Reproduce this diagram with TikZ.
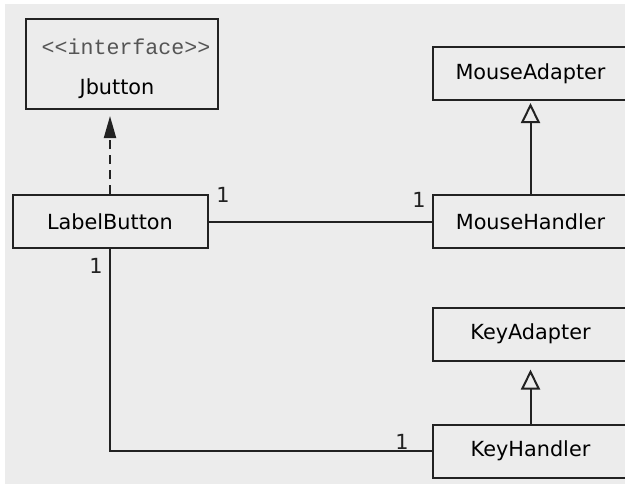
\documentclass[tikz,border=0pt]{standalone}
\usepackage{fontspec}
\setmainfont{DejaVu Sans}
\newfontfamily\umlmono{Liberation Mono}
\usepackage{xcolor}
\usepackage{tikz}
\usetikzlibrary{arrows.meta}
\definecolor{panelgray}{HTML}{ECECEC}
\definecolor{linegray}{HTML}{222222}
\definecolor{stereogray}{HTML}{555555}

\begin{document}
\begin{tikzpicture}[x=0.5pt, y=-0.5pt, font=\fontsize{10.4}{12.5}\selectfont,
    box/.style={shape=rectangle, draw=linegray, line width=1pt, minimum width=97.5pt, minimum height=26.5pt, inner sep=0pt},
    mult/.style={inner sep=0pt, text=linegray},
    realize/.style={draw=linegray, line width=1pt, dash pattern=on 4.5pt off 3pt, -{Triangle[length=11pt, width=6pt]}},
    extend/.style={draw=linegray, line width=1pt, -{Triangle[open, length=10pt, width=9.5pt]}},
    assoc/.style={draw=linegray, line width=1pt}]
    \useasboundingbox (0,0) rectangle (625,484);
    \fill[panelgray] (5,4) rectangle (625,484);

    \node[box, minimum width=96pt, minimum height=45pt] (jbutton) at (122,64) {};
    \node[text=stereogray, font=\umlmono\fontsize{10.8}{13}\selectfont] (stereo) at (126,47) {<{}<interface>{}>};
    \node (jname) at (117,89) {Jbutton};
    \node[box] (label) at (110,221.5) {LabelButton};
    \node[box] (mouseadapter) at (530.5,73.5) {MouseAdapter};
    \node[box] (mousehandler) at (530.5,221.5) {MouseHandler};
    \node[box] (keyadapter) at (530.5,334) {KeyAdapter};
    \node[box] (keyhandler) at (530.5,451) {KeyHandler};

    \draw [realize, shorten >=3pt] (label.north) -- (label.north |- jbutton.south);
    \draw [extend, shorten >=1pt] (mousehandler) -- (mouseadapter);
    \draw [extend, shorten >=4pt] (keyhandler) -- (keyadapter);
    \draw [assoc] (label) -- (mousehandler);
    \draw [assoc] (label.south) |- (keyhandler.west);

    \node[mult] (m1) at (223,195) {1};
    \node[mult] (m2) at (419,200) {1};
    \node[mult] (m3) at (96,266) {1};
    \node[mult] (m4) at (402,442) {1};
\end{tikzpicture}
\end{document}
